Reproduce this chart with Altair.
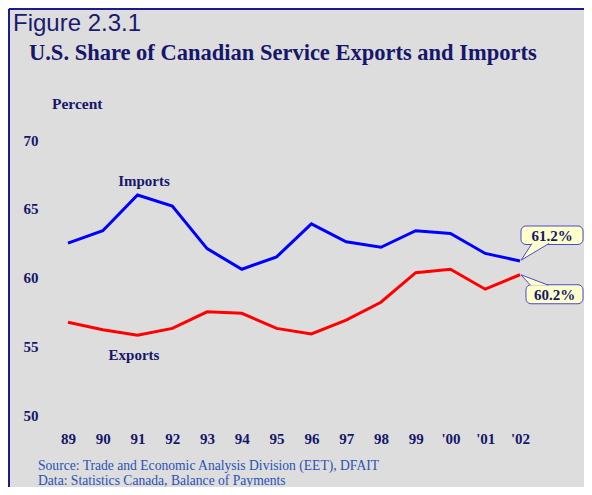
import altair as alt
import pandas as pd

years = ["89", "90", "91", "92", "93", "94", "95", "96", "97", "98", "99", "'00", "'01", "'02"]
imports = [62.5, 63.4, 66.0, 65.2, 62.1, 60.6, 61.5, 63.9, 62.6, 62.2, 63.4, 63.2, 61.75, 61.2]
exports = [56.75, 56.2, 55.8, 56.3, 57.5, 57.4, 56.3, 55.9, 56.9, 58.2, 60.35, 60.6, 59.15, 60.2]
series_names = ["Imports", "Exports"]
series_colors = ["#0000ff", "#ff0000"]
y_ticks = [50, 55, 60, 65, 70]

NAVY = "#16166b"
SERIF = "Liberation Serif"

rows = []
for name, vals in zip(series_names, [imports, exports]):
    for yr, v in zip(years, vals):
        rows.append({"year": yr, "value": v, "series": name})
df = pd.DataFrame(rows)

W, H = 452, 275

x_enc = alt.X("year:O", sort=years, scale=alt.Scale(type="point", padding=0),
              axis=alt.Axis(title=None, labelAngle=0, domain=False, ticks=False,
                            labelFont=SERIF, labelFontSize=15, labelFontWeight="bold",
                            labelColor=NAVY, labelPadding=16, grid=False))
y_enc = alt.Y("value:Q", scale=alt.Scale(domain=[50, 70], nice=False, zero=False),
              axis=alt.Axis(title=None, values=y_ticks, domain=False, ticks=False, grid=False,
                            labelFont=SERIF, labelFontSize=15, labelFontWeight="bold",
                            labelColor=NAVY, labelPadding=30))

lines = alt.Chart(df).mark_line(strokeWidth=3).encode(
    x=x_enc, y=y_enc,
    color=alt.Color("series:N", scale=alt.Scale(domain=series_names, range=series_colors), legend=None),
)

layers = []

# frame border
layers.append(alt.Chart(df).mark_rule(color="#1c1c8c", strokeWidth=2).encode(
    x=alt.value(-59), x2=alt.value(W + 70), y=alt.value(-131)))
layers.append(alt.Chart(df).mark_rule(color="#1c1c8c", strokeWidth=2).encode(
    x=alt.value(-59), y=alt.value(-131), y2=alt.value(H + 80)))

layers.append(lines)

def txt(text, x, y, size, font=SERIF, weight="bold", color=NAVY, align="left", baseline="alphabetic"):
    return alt.Chart(pd.DataFrame({"t": [text]})).mark_text(
        font=font, fontSize=size, fontWeight=weight, color=color, align=align, baseline=baseline
    ).encode(text="t:N", x=alt.value(x), y=alt.value(y))

layers.append(txt("Figure 2.3.1", -55, -109, 24, font="Liberation Sans", weight="normal", color="#1a1a70"))
layers.append(txt("U.S. Share of Canadian Service Exports and Imports", -39, -80, 22.5))
layers.append(txt("Percent", -16, -31, 15.5))
layers.append(txt("Imports", 76, 41, 15, align="center", baseline="middle"))
layers.append(txt("Exports", 66, 215, 15, align="center", baseline="middle"))
layers.append(txt("Source: Trade and Economic Analysis Division (EET), DFAIT", -30, 330, 13.6,
                  weight="normal", color="#2a52b5"))
layers.append(txt("Data: Statistics Canada, Balance of Payments", -30, 345, 13.6,
                  weight="normal", color="#2a52b5"))

# callouts anchored to last data points
last = years[-1]
callouts = [
    # value, box offsets (x1, x2, y1, y2), tail path
    (imports[-1], (1, 63, -35, -16.5), "M0.4,-0.585 L0.04,-0.03 L0.97,-0.585"),
    (exports[-1], (6, 63, 10, 29), "M0.35,0.35 L0.03,0.0 L0.95,0.35"),
]
for val, (bx1, bx2, by1, by2), tail in callouts:
    cdf = pd.DataFrame({"year": [last], "value": [val], "label": [f"{val:.1f}%"]})
    base = alt.Chart(cdf)
    layers.append(base.mark_rect(
        fill="#ffffcc", stroke="#4a4ad0", strokeWidth=1, cornerRadius=5,
        xOffset=bx1, x2Offset=bx2, yOffset=by1, y2Offset=by2
    ).encode(x=alt.X("year:O", sort=years), x2="year", y="value:Q", y2="value"))
    layers.append(base.mark_point(
        shape=tail, size=3600, filled=True, fill="#ffffcc", stroke="#4a4ad0",
        strokeWidth=1, opacity=1
    ).encode(x=alt.X("year:O", sort=years), y="value:Q"))
    layers.append(base.mark_text(
        font=SERIF, fontSize=15, fontWeight="bold", color=NAVY, align="center", baseline="middle",
        dx=(bx1 + bx2) / 2, dy=(by1 + by2) / 2 + 1
    ).encode(x=alt.X("year:O", sort=years), y="value:Q", text="label:N"))

chart = alt.layer(*layers).properties(
    width=W, height=H,
    autosize=alt.AutoSizeParams(type="none"),
    padding={"left": 60, "top": 132, "right": 64, "bottom": 72},
).configure(background="#dddddd").configure_view(stroke=None)

chart.save("out.html", embed_options={"renderer": "svg", "actions": False})
